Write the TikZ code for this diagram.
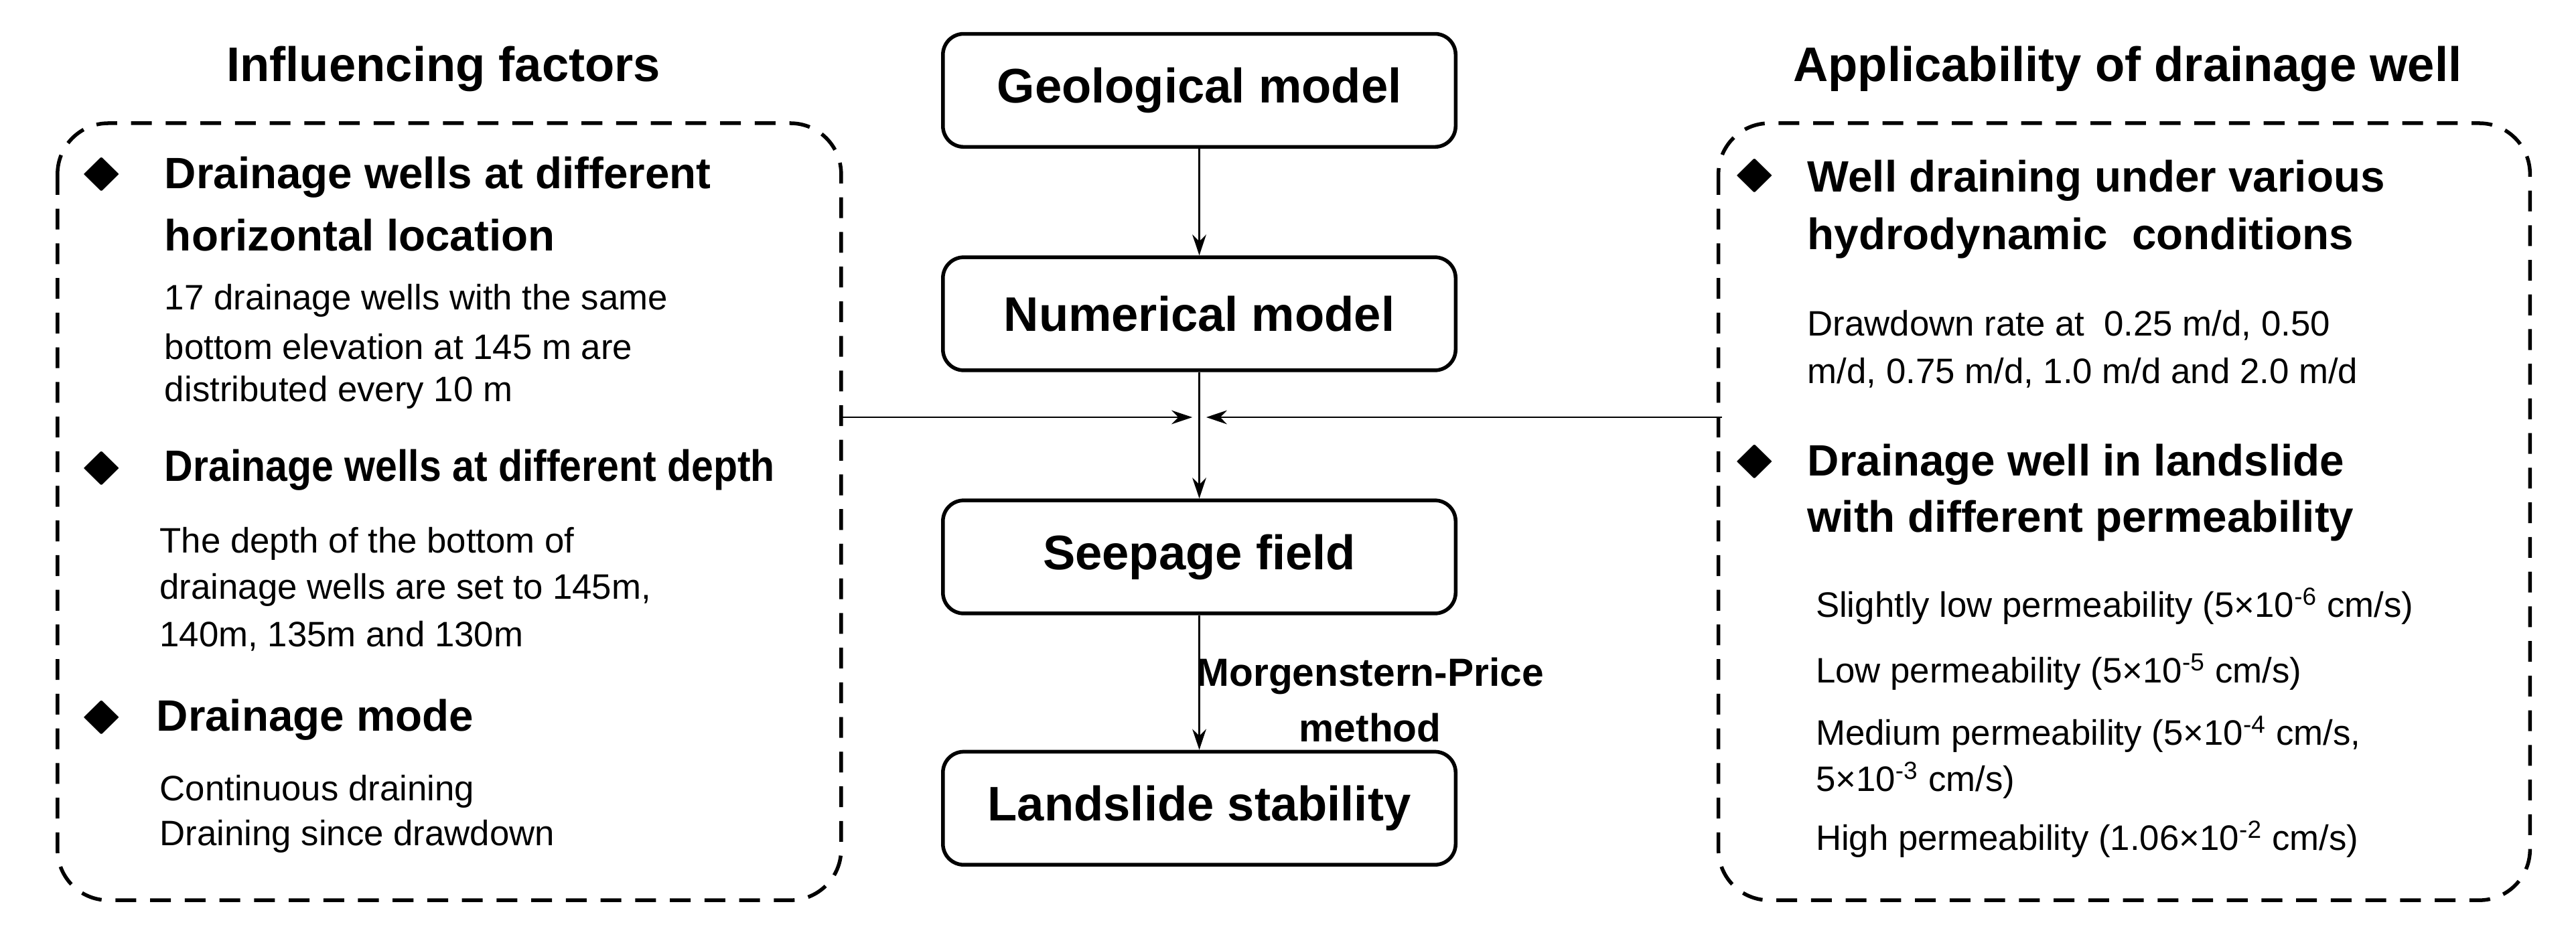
\documentclass[tikz,border=0pt]{standalone}
\usepackage{amssymb}
\usepackage{fontspec}
\setmainfont{Liberation Sans}
\usetikzlibrary{arrows.meta}
\begin{document}
\begin{tikzpicture}[x=0.025cm,y=-0.025cm,
  box/.style={draw, line width=1.6pt, rounded corners=9pt, minimum width=7.8cm, minimum height=1.72cm, font=\fontsize{21}{24}\selectfont\bfseries},
  group/.style={draw, line width=1.6pt, dash pattern=on 9pt off 6pt, rounded corners=22pt},
  head/.style={font=\fontsize{21}{24}\selectfont\bfseries},
  item/.style={anchor=west, font=\fontsize{19}{22}\selectfont\bfseries, inner sep=0pt},
  body/.style={anchor=west, font=\fontsize{15.3}{18}\selectfont, inner sep=0pt},
  bul/.style={font=\fontsize{17}{20}\selectfont, inner sep=0pt, xscale=1.6},
  link/.style={line width=0.8pt, -{Stealth[length=9pt,width=6pt]}}]
\useasboundingbox (0,0) rectangle (1568,575);

% left group
\node[head] (lhead) at (270,42) {Influencing factors};
\draw[group] (35,75) rectangle (512,548);
\node[bul] (lb1) at (62,106) {$\blacklozenge$};
\node[item] (li1a) at (100,108) {Drainage wells at different};
\node[item] (li1b) at (100,143) {horizontal location};
\node[body] (lt1a) at (100,183) {17 drainage wells with the same};
\node[body] (lt1b) at (100,211) {bottom elevation at 145 m are};
\node[body] (lt1c) at (100,239) {distributed every 10 m};
\node[bul] (lb2) at (62,285) {$\blacklozenge$};
\node[item, xscale=0.9] (li2) at (100,286) {Drainage wells at different depth};
\node[body] (lt2a) at (97,331) {The depth of the bottom of};
\node[body] (lt2b) at (97,359) {drainage wells are set to 145m,};
\node[body] (lt2c) at (97,387) {140m, 135m and 130m};
\node[bul] (lb3) at (62,437) {$\blacklozenge$};
\node[item] (li3) at (95,438) {Drainage mode};
\node[body] (lt3a) at (97,482) {Continuous draining};
\node[body] (lt3b) at (97,509) {Draining since drawdown};

% center
\node[box] (geo) at (730,55) {Geological model};
\node[box] (num) at (730,191) {Numerical model};
\node[box] (see) at (730,339) {Seepage field};
\node[box] (sta) at (730,492) {Landslide stability};
\coordinate (mid) at (730,254);
\draw[link] (geo) -- (num);
\draw[link] (num) -- (see);
\draw[link] (see) -- (sta);
\coordinate (lend) at (512,254);
\coordinate (rend) at (1048,254);
\draw[link] (lend) -- ([xshift=-3]mid);
\draw[link] (rend) -- ([xshift=3]mid);
\node[item, anchor=center, align=center, font=\fontsize{17}{20}\selectfont\bfseries] (mp) at (834,426) {Morgenstern-Price\\[4pt]method};

% right group
\node[head] (rhead) at (1295,42) {Applicability of drainage well};
\draw[group] (1046,75) rectangle (1540,548);
\node[bul] (rb1) at (1068,107) {$\blacklozenge$};
\node[item] (ri1a) at (1100,110) {Well draining under various};
\node[item] (ri1b) at (1100,145) {hydrodynamic\ \ conditions};
\node[body] (rt1a) at (1100,198) {Drawdown rate at\ \ 0.25 m/d, 0.50};
\node[body] (rt1b) at (1100,227) {m/d, 0.75 m/d, 1.0 m/d and 2.0 m/d};
\node[bul] (rb2) at (1068,281) {$\blacklozenge$};
\node[item] (ri2a) at (1100,283) {Drainage well in landslide};
\node[item] (ri2b) at (1100,317) {with different permeability};
\node[body] (rt2a) at (1105,369) {Slightly low permeability (5×10\textsuperscript{-6} cm/s)};
\node[body] (rt2b) at (1105,409) {Low permeability (5×10\textsuperscript{-5} cm/s)};
\node[body] (rt2c) at (1105,447) {Medium permeability (5×10\textsuperscript{-4} cm/s,};
\node[body] (rt2d) at (1105,475) {5×10\textsuperscript{-3} cm/s)};
\node[body] (rt2e) at (1105,511) {High permeability (1.06×10\textsuperscript{-2} cm/s)};
\end{tikzpicture}
\end{document}
